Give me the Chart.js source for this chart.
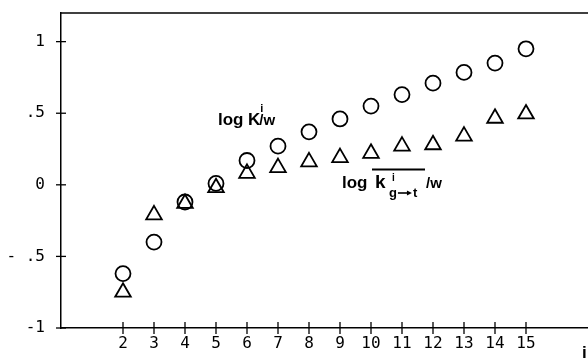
<!DOCTYPE html>
<html>
<head>
<meta charset="utf-8">
<script src="https://cdn.jsdelivr.net/npm/chart.js@4"></script>
<style>
  html, body { margin: 0; background: #fff; }
  #wrap { width: 588px; height: 362px; }
</style>
</head>
<body>
<div id="wrap"><canvas id="c"></canvas></div>
<script>
// carbon number i
const carbonNumbers = [2, 3, 4, 5, 6, 7, 8, 9, 10, 11, 12, 13, 14, 15];
// log K^i/w (circles)
const logKw = [-0.62, -0.40, -0.12, 0.01, 0.17, 0.27, 0.37, 0.46, 0.55, 0.63, 0.71, 0.785, 0.85, 0.95];
// log k(g->t)/w (triangles)
const logKgt = [-0.75, -0.21, -0.13, -0.02, 0.08, 0.12, 0.16, 0.19, 0.22, 0.27, 0.28, 0.34, 0.465, 0.495];

const yTickValues = [-1, -0.5, 0, 0.5, 1];
const yTickLabels = ['-1', '- .5', '0', '.5', '1'];

const tickFont = { family: 'DejaVu Sans Mono', size: 16 };

// frame top line, cross ticks and the two curve labels
const decorations = {
  id: 'decorations',
  afterDraw(chart) {
    const { ctx, chartArea, scales } = chart;
    ctx.save();
    ctx.strokeStyle = '#000';
    ctx.lineWidth = 1.5;
    ctx.beginPath();
    ctx.moveTo(chartArea.left, chartArea.top);
    ctx.lineTo(chartArea.right, chartArea.top);
    ctx.stroke();

    ctx.lineWidth = 1.3;
    yTickValues.forEach(v => {
      const y = scales.y.getPixelForValue(v);
      ctx.beginPath();
      ctx.moveTo(chartArea.left - 5, y);
      ctx.lineTo(chartArea.left + 5, y);
      ctx.stroke();
    });
    carbonNumbers.forEach(v => {
      const x = scales.x.getPixelForValue(v);
      ctx.beginPath();
      ctx.moveTo(x, chartArea.bottom - 6);
      ctx.lineTo(x, chartArea.bottom + 6);
      ctx.stroke();
    });

    ctx.fillStyle = '#000';
    ctx.textBaseline = 'alphabetic';
    ctx.textAlign = 'left';
    const run = (text, size, x, y) => {
      ctx.font = 'bold ' + size + 'px "Liberation Sans", Arial, sans-serif';
      ctx.fillText(text, x, y);
      return x + ctx.measureText(text).width;
    };

    // log K^i/w
    run('log', 17, 218, 125);
    let x = run('K', 17, 248, 125);
    run('i', 11, x, 112);
    run('/w', 15, x - 1, 125);

    // log k^i(g->t)/w with bar
    run('log', 17, 342, 188);
    run('k', 19, 375, 188);
    run('i', 10, 392, 181);
    x = run('g', 13, 389, 197);
    // arrow g -> t
    ctx.lineWidth = 1.6;
    ctx.beginPath();
    ctx.moveTo(x + 1, 193);
    ctx.lineTo(x + 12, 193);
    ctx.stroke();
    ctx.beginPath();
    ctx.moveTo(x + 15, 193);
    ctx.lineTo(x + 10, 190.5);
    ctx.lineTo(x + 10, 195.5);
    ctx.closePath();
    ctx.fill();
    run('t', 13, x + 16, 197);
    run('/w', 15, 426, 188);
    ctx.lineWidth = 2;
    ctx.beginPath();
    ctx.moveTo(372, 169.5);
    ctx.lineTo(425, 169.5);
    ctx.stroke();

    // axis symbol, cut at the right edge
    run('i', 17, 582, 358);
    ctx.restore();
  }
};

new Chart(document.getElementById('c'), {
  type: 'scatter',
  data: {
    datasets: [
      {
        label: 'log K/w',
        data: carbonNumbers.map((c, i) => ({ x: c, y: logKw[i] })),
        pointStyle: 'circle',
        pointRadius: 7.5,
        borderColor: '#000',
        backgroundColor: 'rgba(0,0,0,0)',
        borderWidth: 1.8
      },
      {
        label: 'log k g-t/w',
        data: carbonNumbers.map((c, i) => ({ x: c, y: logKgt[i] })),
        pointStyle: 'triangle',
        pointRadius: 9,
        borderColor: '#000',
        backgroundColor: 'rgba(0,0,0,0)',
        borderWidth: 1.8
      }
    ]
  },
  options: {
    responsive: true,
    maintainAspectRatio: false,
    animation: false,
    layout: { autoPadding: false, padding: { top: 13, right: 0, left: 0, bottom: 0 } },
    plugins: { legend: { display: false }, tooltip: { enabled: false } },
    scales: {
      x: {
        type: 'linear',
        min: 0,
        max: 17,
        afterBuildTicks: s => { s.ticks = carbonNumbers.map(v => ({ value: v })); },
        afterFit: s => { s.height = 34; s.paddingLeft = 0; s.paddingRight = 0; },
        grid: { display: false, drawTicks: false },
        border: { display: true, color: '#000', width: 1.5 },
        ticks: { color: '#000', font: tickFont, padding: 6, maxRotation: 0, autoSkip: false }
      },
      y: {
        type: 'linear',
        min: -1,
        max: 1.2,
        afterBuildTicks: s => { s.ticks = yTickValues.map(v => ({ value: v })); },
        afterFit: s => { s.width = 61; s.paddingTop = 0; s.paddingBottom = 0; },
        grid: { display: false, drawTicks: false },
        border: { display: true, color: '#000', width: 1.5 },
        ticks: {
          color: '#000',
          font: tickFont,
          padding: 16,
          callback: v => yTickLabels[yTickValues.indexOf(v)]
        }
      }
    }
  },
  plugins: [decorations]
});
</script>
</body>
</html>
